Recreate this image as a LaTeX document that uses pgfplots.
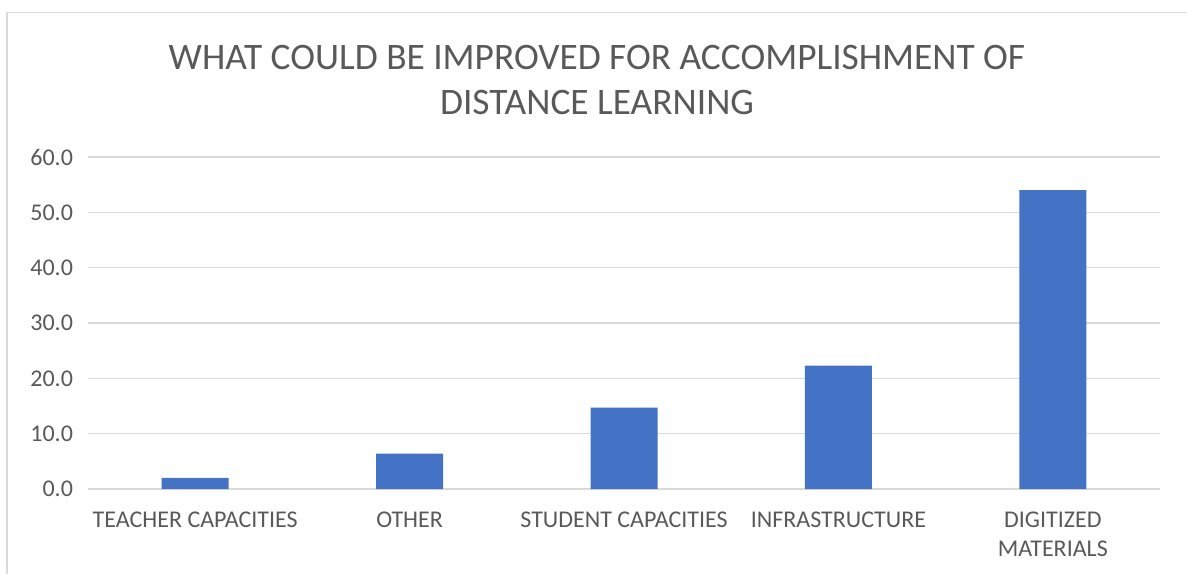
\documentclass[border=0pt]{standalone}
\usepackage{fontspec}
\setmainfont{Carlito}
\usepackage{pgfplots}
\pgfplotsset{compat=1.18}
\definecolor{barblue}{HTML}{4472C4}
\definecolor{txtgray}{HTML}{595959}
\definecolor{gridgray}{HTML}{D9D9D9}
\begin{document}
\begin{tikzpicture}
\path[use as bounding box] (0,0) rectangle (593.5pt,287pt);
% chart frame (left and top edges visible)
\draw[gridgray, line width=0.8pt] (3.5pt,0) -- (3.5pt,280.75pt) -- (593.5pt,280.75pt);
\begin{axis}[
    at={(44pt,42.5pt)}, anchor=south west,
    scale only axis,
    width=536pt, height=166pt,
    ybar, bar width=33.5pt,
    xmin=-0.5, xmax=4.5,
    ymin=0, ymax=60,
    ytick={0,10,...,60},
    xtick=data,
    xticklabels={TEACHER CAPACITIES, OTHER, STUDENT CAPACITIES, INFRASTRUCTURE, {DIGITIZED\\MATERIALS}},
    x tick label style={align=center, font=\fontsize{12}{14.5}\selectfont, text=txtgray, yshift=-8pt},
    y tick label style={font=\fontsize{12}{14}\selectfont, text=txtgray, xshift=-4pt},
    /pgf/number format/assume math mode=true,
    yticklabel style={/pgf/number format/.cd, fixed, fixed zerofill, precision=1},
    major tick length=0pt,
    ymajorgrids, grid style={gridgray, line width=0.8pt},
    axis line style={draw=none},
]
\addplot[fill=barblue, draw=none] coordinates {(0,2.0) (1,6.4) (2,14.7) (3,22.3) (4,54.0)};
\end{axis}
\node[anchor=base, text=txtgray, font=\fontsize{18.7}{22}\selectfont] at (298.5pt,252pt) {WHAT COULD BE IMPROVED FOR ACCOMPLISHMENT OF};
\node[anchor=base, text=txtgray, font=\fontsize{18.7}{22}\selectfont] at (298.5pt,229.5pt) {DISTANCE LEARNING};
\end{tikzpicture}
\end{document}
